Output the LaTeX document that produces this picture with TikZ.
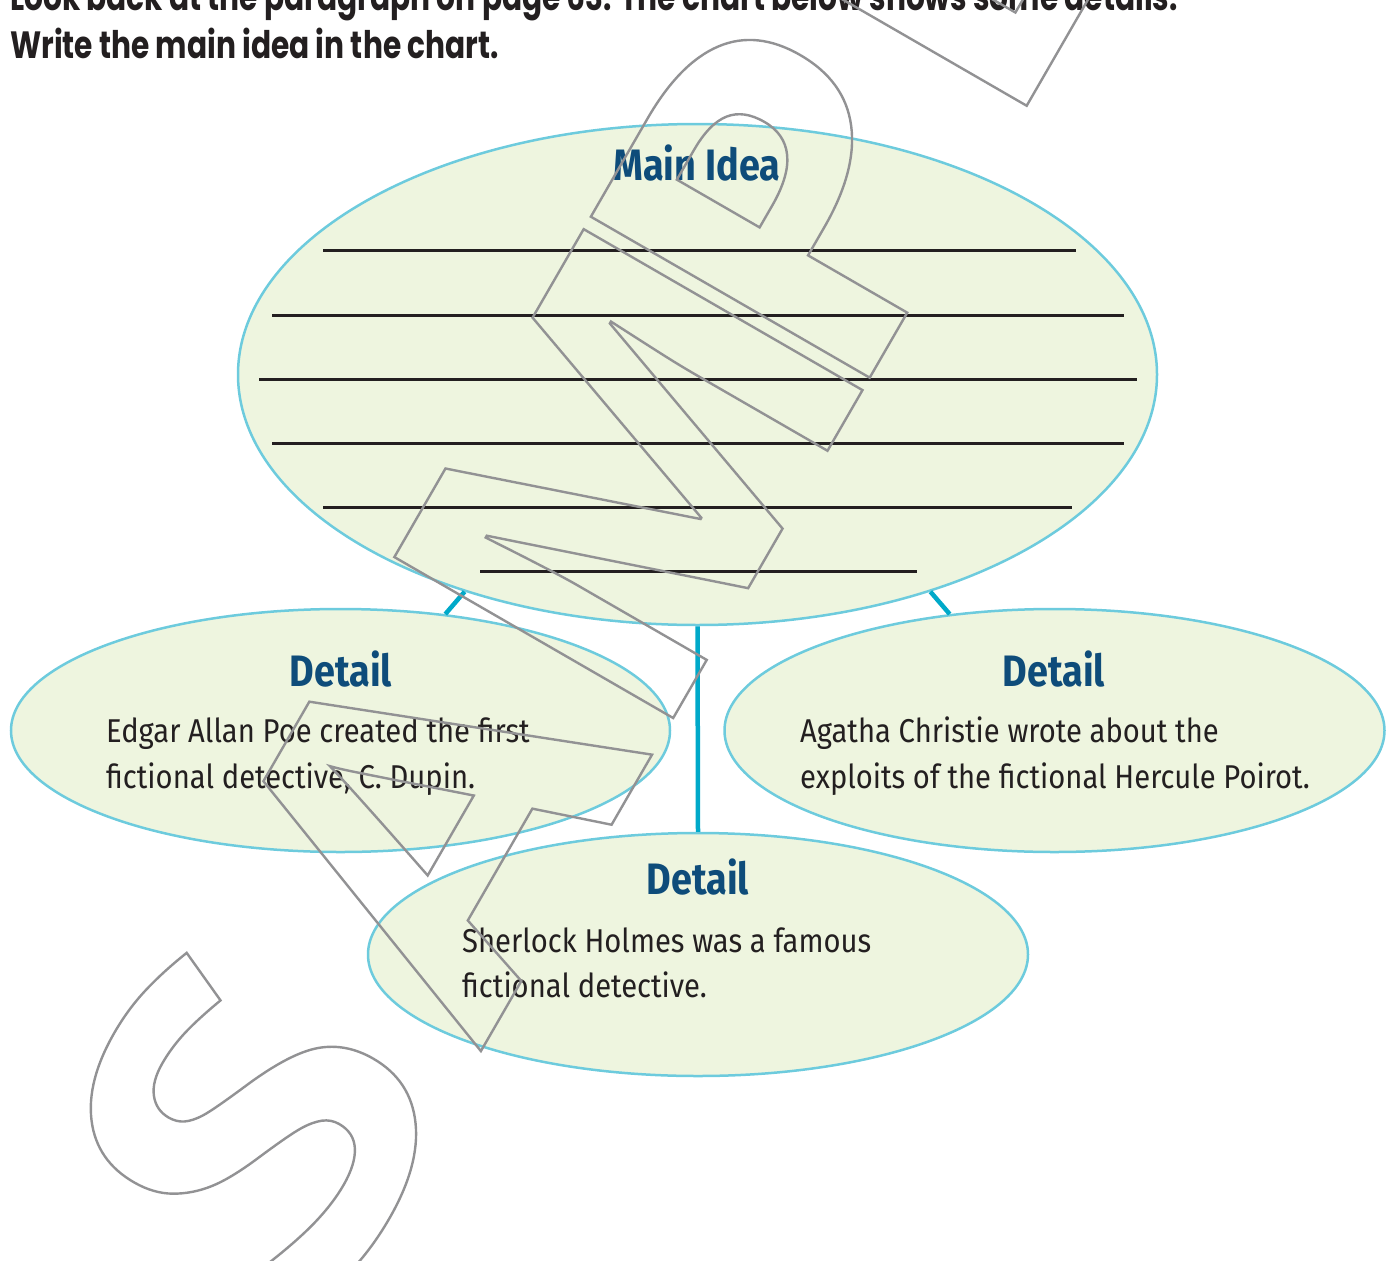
\documentclass[tikz,border=0pt]{standalone}
\usepackage{fontspec}
\usetikzlibrary{shapes.geometric}
\setmainfont{Fira Sans}
\newfontfamily\titlefont[FakeStretch=0.78]{Poppins}
\newfontfamily\headfont[FakeStretch=0.86]{Fira Sans}
\newfontfamily\bodyfont[FakeStretch=0.885]{Fira Sans}
\newfontfamily\stampfont[FakeStretch=1.1]{Open Sans}
\definecolor{ovalfill}{HTML}{EEF5DF}
\definecolor{ovalline}{HTML}{6DCBDD}
\definecolor{linkblue}{HTML}{00A9C9}
\definecolor{headblue}{HTML}{0E4C7A}
\definecolor{inkblack}{HTML}{231F20}
\definecolor{stampgray}{HTML}{929294}
\newcommand{\outlined}[1]{\special{pdf:literal direct 1 Tr 2.4 w}#1\special{pdf:literal direct 0 Tr}}

\tikzset{
  oval/.style={ellipse, draw=ovalline, line width=2.5pt, fill=ovalfill, inner sep=0pt},
  link/.style={draw=linkblue, line width=4.5pt},
  rule/.style={draw=inkblack, line width=3pt},
  task/.style={anchor=base west, inner sep=0pt, text=inkblack, font=\titlefont\bfseries\fontsize{38}{48}\selectfont},
  head/.style={anchor=base, inner sep=0pt, text=headblue, font=\headfont\bfseries\fontsize{44}{50}\selectfont},
  body/.style={anchor=base west, inner sep=0pt, text=inkblack, font=\bodyfont\fontsize{33}{46}\selectfont},
  stamp/.style={anchor=base west, inner sep=0pt, transform shape, text=stampgray, font=\stampfont\bfseries\fontsize{451}{451}\selectfont}
}

\begin{document}
\begin{tikzpicture}[x=1pt,y=-1pt]
	\useasboundingbox (0,0) rectangle (1390,1261);
	
	% task text
	\node[task] (task1) at (10,10) {Look back at the paragraph on page 63. The chart below shows some details.};
	\node[task] (task2) at (10,58) {Write the main idea in the chart.};
	
	% the four ovals
	\node[oval, minimum width=919pt, minimum height=501pt] (main) at (697.5,374.5) {};
	\node[oval, minimum width=659pt, minimum height=243pt] (poe) at (340.5,730.5) {};
	\node[oval, minimum width=660pt, minimum height=243pt] (poirot) at (1054.5,730.5) {};
	\node[oval, minimum width=660pt, minimum height=243pt] (holmes) at (698,954.5) {};
	
	\draw[link] (main.223) -- (poe.48);
	\draw[link] (main.-43) -- (poirot.132);
	\draw[link] (main.south) -- (holmes.north);
	
	% lines to write on
	\foreach \y/\a/\b in {250/323/1076, 315/272/1124, 379/259/1137, 443/272/1124, 507/323/1072, 571/480/917}
		\draw[rule] (\a,\y) -- (\b,\y);
	
	\node[head] (mainhead) at (697,180) {Main Idea};
	\node[head] (poehead) at (341,686) {Detail};
	\node[head] (poirothead) at (1054,686) {Detail};
	\node[head] (holmeshead) at (698,894) {Detail};
	
	\node[body] (poe1) at (106,742) {Edgar Allan Poe created the first};
	\node[body] (poe2) at (106,788) {fictional detective, C. Dupin.};
	\node[body] (poirot1) at (800,742) {Agatha Christie wrote about the};
	\node[body] (poirot2) at (800,788) {exploits of the fictional Hercule Poirot.};
	\node[body] (holmes1) at (462,952) {Sherlock Holmes was a famous};
	\node[body] (holmes2) at (462,997) {fictional detective.};
	
	% watermark, one letter at a time along its baseline
	\begin{scope}[shift={(815.8,471)}, rotate=60]
		\foreach \ch/\u in {S/-984, A/-670, M/-330, P/63, L/377, E/613}
			\node[stamp] (stamp\ch) at (\u,0) {\outlined{\ch}};
	\end{scope}
\end{tikzpicture}
\end{document}
